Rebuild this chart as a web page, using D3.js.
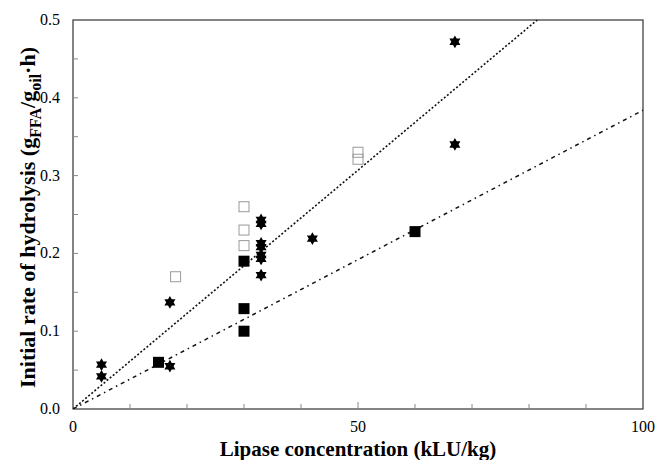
<!DOCTYPE html>
<html>
<head>
<meta charset="utf-8">
<script src="https://cdn.jsdelivr.net/npm/d3@7"></script>
<style>
  body { margin: 0; background: #fff; }
  svg { font-family: "Liberation Serif", "Times New Roman", serif; }
</style>
</head>
<body>
<div id="chart"></div>
<script>
// data
var starX = [5, 5, 17, 17, 33, 33, 33, 33, 33, 33, 33, 42, 67, 67];
var starY = [0.057, 0.042, 0.137, 0.055, 0.243, 0.238, 0.213, 0.208, 0.198, 0.193, 0.172, 0.219, 0.472, 0.340];

var filledX = [15, 30, 30, 30, 60];
var filledY = [0.060, 0.190, 0.129, 0.100, 0.228];

var openX = [18, 30, 30, 30, 50, 50];
var openY = [0.170, 0.260, 0.230, 0.210, 0.330, 0.321];

// fitted lines through origin (slopes)
var slopeUpper = 0.00614;
var slopeLower = 0.00384;

var xTickLabels = [0, 50, 100];
var yTickLabels = [0, 0.1, 0.2, 0.3, 0.4, 0.5];

var width = 655, height = 460;
var margin = {left: 73, right: 12, top: 20, bottom: 51};

var svg = d3.select("#chart").append("svg")
  .attr("width", width)
  .attr("height", height);

var x = d3.scaleLinear().domain([0, 100]).range([margin.left, width - margin.right]);
var y = d3.scaleLinear().domain([0, 0.5]).range([height - margin.bottom, margin.top]);

// frame
svg.append("rect")
  .attr("x", x(0)).attr("y", y(0.5))
  .attr("width", x(100) - x(0)).attr("height", y(0) - y(0.5))
  .attr("fill", "none").attr("stroke", "#333").attr("stroke-width", 1.2);

// inner ticks
svg.append("g")
  .selectAll("line")
  .data(d3.range(10, 100, 10))
  .enter().append("line")
    .attr("x1", d => x(d)).attr("x2", d => x(d))
    .attr("y1", y(0)).attr("y2", d => y(0) - (d == 50 ? 7 : 5))
    .attr("stroke", "#888");

svg.append("g")
  .selectAll("line")
  .data(d3.range(0.05, 0.5, 0.05))
  .enter().append("line")
    .attr("x1", x(0)).attr("x2", x(0) + 5)
    .attr("y1", d => y(d)).attr("y2", d => y(d))
    .attr("stroke", "#888");

// tick labels
svg.append("g")
  .selectAll("text")
  .data(xTickLabels)
  .enter().append("text")
    .attr("x", d => x(d))
    .attr("y", y(0) + 23)
    .attr("text-anchor", "middle")
    .style("font-size", "16px")
    .text(d => d);

svg.append("g")
  .selectAll("text")
  .data(yTickLabels)
  .enter().append("text")
    .attr("x", x(0) - 13)
    .attr("y", d => y(d) + 5)
    .attr("text-anchor", "end")
    .style("font-size", "16px")
    .text(d => d3.format(".1f")(d));

// axis titles
svg.append("text")
  .attr("x", (x(0) + x(100)) / 2)
  .attr("y", height - 4)
  .attr("text-anchor", "middle")
  .style("font-size", "21px")
  .style("font-weight", "bold")
  .text("Lipase concentration (kLU/kg)");

var yTitle = svg.append("text")
  .attr("transform", "translate(35," + ((y(0) + y(0.5)) / 2 + 3) + ") rotate(-90)")
  .attr("text-anchor", "middle")
  .style("font-size", "22px")
  .style("font-weight", "bold");
yTitle.append("tspan").text("Initial rate of hydrolysis (g");
yTitle.append("tspan").attr("dy", 6).style("font-size", "16px").text("FFA");
yTitle.append("tspan").attr("dy", -6).text("/g");
yTitle.append("tspan").attr("dy", 6).style("font-size", "16px").text("oil");
yTitle.append("tspan").attr("dy", -6).text("\u00b7h)");

// fitted lines, clipped to the frame
svg.append("clipPath").attr("id", "plotclip")
  .append("rect")
  .attr("x", x(0)).attr("y", y(0.5))
  .attr("width", x(100) - x(0)).attr("height", y(0) - y(0.5));

var lineGen = d3.line().x(d => x(d[0])).y(d => y(d[1]));

svg.append("path")
  .attr("clip-path", "url(#plotclip)")
  .attr("d", lineGen([[0, 0], [100, 100 * slopeUpper]]))
  .attr("fill", "none").attr("stroke", "#111").attr("stroke-width", 1.6)
  .attr("stroke-dasharray", "2,2");

svg.append("path")
  .attr("clip-path", "url(#plotclip)")
  .attr("d", lineGen([[0, 0], [100, 100 * slopeLower]]))
  .attr("fill", "none").attr("stroke", "#111").attr("stroke-width", 1.5)
  .attr("stroke-dasharray", "4,4,1.5,4");

// six-pointed star symbol
var star6 = {
  draw: function(context, size) {
    var r = Math.sqrt(size) * 0.75;
    for (var t = 0; t < 2; t++) {
      for (var i = 0; i < 3; i++) {
        var a = -Math.PI / 2 + t * Math.PI + i * 2 * Math.PI / 3;
        if (i == 0) context.moveTo(r * Math.cos(a), r * Math.sin(a));
        else context.lineTo(r * Math.cos(a), r * Math.sin(a));
      }
      context.closePath();
    }
  }
};

// open squares
svg.append("g")
  .selectAll("rect")
  .data(d3.zip(openX, openY))
  .enter().append("rect")
    .attr("x", d => x(d[0]) - 5).attr("y", d => y(d[1]) - 5)
    .attr("width", 10).attr("height", 10)
    .attr("fill", "none").attr("stroke", "#999").attr("stroke-width", 1);

// filled squares
svg.append("g")
  .selectAll("rect")
  .data(d3.zip(filledX, filledY))
  .enter().append("rect")
    .attr("x", d => x(d[0]) - 5.5).attr("y", d => y(d[1]) - 5.5)
    .attr("width", 11).attr("height", 11)
    .attr("fill", "#000");

// stars
svg.append("g")
  .selectAll("path")
  .data(d3.zip(starX, starY))
  .enter().append("path")
    .attr("transform", d => "translate(" + x(d[0]) + "," + y(d[1]) + ")")
    .attr("d", d3.symbol().type(star6).size(72))
    .attr("fill", "#000")
    .attr("fill-rule", "nonzero");
</script>
</body>
</html>
